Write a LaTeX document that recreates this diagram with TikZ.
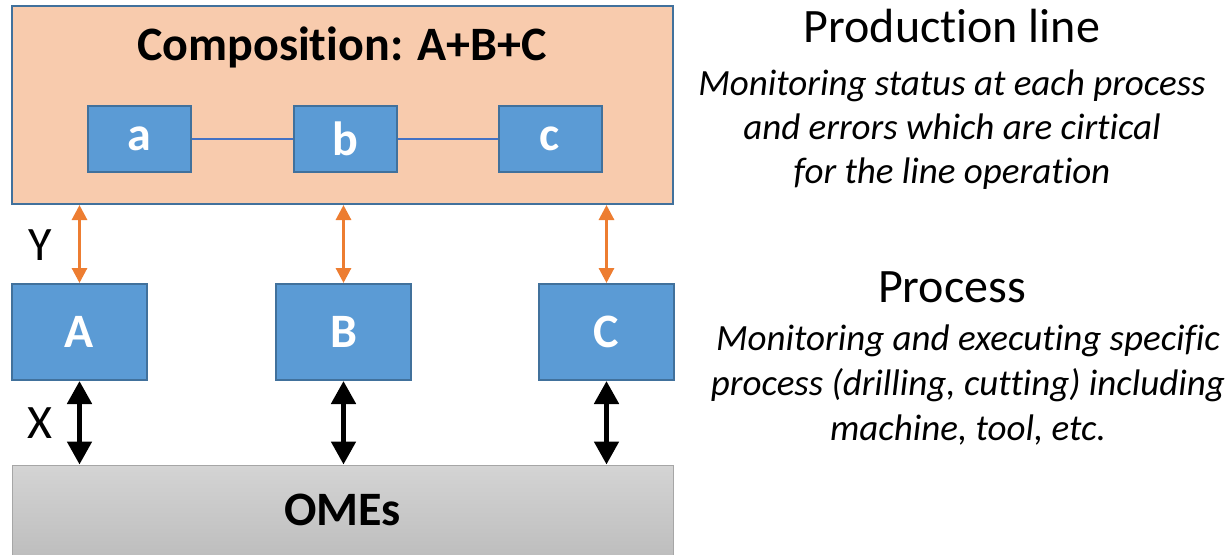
\documentclass[tikz,border=0pt]{standalone}
\usepackage{fontspec}
\setmainfont{Carlito}[Ligatures=NoCommon]
\usetikzlibrary{arrows.meta}
\usetikzlibrary{positioning}
\definecolor{peach}{RGB}{248,203,173}
\definecolor{lblue}{RGB}{91,155,213}
\definecolor{dblue}{RGB}{65,113,156}
\definecolor{mblue}{RGB}{68,114,196}
\definecolor{orng}{RGB}{237,125,49}
\definecolor{gtop}{RGB}{212,212,212}
\definecolor{gbot}{RGB}{190,190,190}
\definecolor{gline}{RGB}{166,166,166}

\begin{document}
\begin{tikzpicture}[x=0.5pt,y=-0.5pt,inner sep=0pt,
  big/.style={font=\fontsize{24}{29}\selectfont},
  bigb/.style={font=\fontsize{24}{29}\selectfont\bfseries},
  note/.style={font=\fontsize{18.5}{22}\selectfont\itshape,align=center},
  ylink/.style={orng,line width=1.5pt,{Triangle[width=7.5pt,length=7.5pt]}-{Triangle[width=7.5pt,length=7.5pt]}},
  xlink/.style={black,line width=2.5pt,{Triangle[width=12pt,length=11.5pt]}-{Triangle[width=12pt,length=11.5pt]}}]
  \tikzstyle{blk}=[draw=dblue,line width=1pt,fill=lblue,text=white,bigb]
  \useasboundingbox (0,0) rectangle (1232,554);
  % production line
  \node [draw=dblue,line width=1pt,fill=peach,minimum width=330.5pt,minimum height=99pt] (line) at (342.5,105) {};
  \node [bigb] (title) at (342,47) {Composition: A+B+C};
  \node [blk,minimum width=51.5pt,minimum height=33pt] (a) at (139.5,139) {a};
  \node [blk,minimum width=51.5pt,minimum height=33pt] (b) at (345,139) {b};
  \node [blk,minimum width=51.5pt,minimum height=33pt] (c) at (550,139) {c};
  \draw [mblue,line width=1.4pt] (a) -- (b) -- (c);
  % processes
  \node [blk,minimum width=67.5pt,minimum height=48pt] (A) at (79.5,332) {A};
  \node [blk,minimum width=67.5pt,minimum height=48pt] (B) at (343.5,332) {B};
  \node [blk,minimum width=67.5pt,minimum height=48pt] (C) at (606.5,332) {C};
  % omes
  \node [draw=gline,line width=0.5pt,top color=gtop,bottom color=gbot,minimum width=330.5pt,minimum height=45pt,bigb] (ome) at (342.5,510) {OMEs};
  \foreach \p in {A,B,C}{
    \draw [ylink] (line.south -| \p.north) -- (\p.north);
    \draw [xlink] (\p.south) -- (\p.south |- ome.north);
  }
  \node [big] (y) at (40,245) {Y};
  \node [big] (x) at (40,423) {X};
  % descriptions
  \node [big,anchor=base] (prod) at (952,42) {Production line};
  \node [note,anchor=base] (prodnote) at (952,183) {Monitoring status at each process\\and errors which are cirtical\\for the line operation};
  \node [big,anchor=base] (proc) at (952,302) {Process};
  \node [note,anchor=base,font=\fontsize{18.5}{22.5}\selectfont\itshape] (procnote) at (968,440) {Monitoring and executing specific\\process (drilling, cutting) including\\machine, tool, etc.};
\end{tikzpicture}
\end{document}
